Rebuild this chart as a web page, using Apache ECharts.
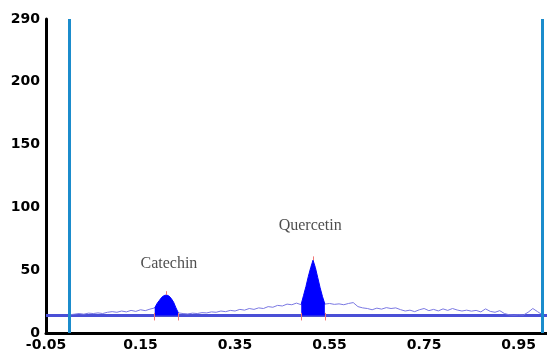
<!DOCTYPE html>
<html>
<head>
<meta charset="utf-8">
<script src="https://cdn.jsdelivr.net/npm/echarts@6/dist/echarts.min.js"></script>
<style>
  html, body { margin: 0; padding: 0; background: #fff; }
  #chart { width: 547px; height: 358px; }
</style>
</head>
<body>
<div id="chart"></div>
<script>
// densitometry trace (Rf, height)
const traceX = [0.00, 0.01, 0.02, 0.03, 0.04, 0.05, 0.06, 0.07, 0.08, 0.09, 0.10,
  0.11, 0.12, 0.13, 0.14, 0.15, 0.16, 0.17, 0.18,
  0.23, 0.24, 0.25, 0.26, 0.27, 0.28, 0.29, 0.30,
  0.31, 0.32, 0.33, 0.34, 0.35, 0.36, 0.37, 0.38, 0.39, 0.40,
  0.41, 0.42, 0.43, 0.44, 0.45, 0.46, 0.47, 0.48, 0.49,
  0.54, 0.55, 0.56, 0.57, 0.58, 0.59, 0.60,
  0.61, 0.62, 0.63, 0.64, 0.65, 0.66, 0.67, 0.68, 0.69, 0.70,
  0.71, 0.72, 0.73, 0.74, 0.75, 0.76, 0.77, 0.78, 0.79, 0.80,
  0.81, 0.82, 0.83, 0.84, 0.85, 0.86, 0.87, 0.88, 0.89, 0.90, 0.91, 0.92,
  0.93, 0.94, 0.95, 0.96, 0.97, 0.98, 0.99, 1.00];
const traceY = [14.5, 15, 15.5, 15, 15.8, 15.5, 16, 15.5, 16.5, 17, 16.5,
  17.5, 16.8, 18, 17.2, 18.5, 17.8, 19, 20,
  16, 15.5, 15.2, 15.8, 15.5, 16.2, 16, 16.8,
  16.5, 17.5, 17, 18, 17.5, 18.8, 18.2, 19.5, 18.8, 20,
  19.5, 21, 20.5, 22, 21.5, 23, 22.5, 23.8, 22.5,
  23, 23.5, 22.8, 23.2, 22.5, 23.5, 24.2,
  21, 20, 19.5, 18.5, 19.8, 19, 20.2, 19.5, 20, 18.6,
  17.5, 18.2, 17, 18.5, 19.5, 17.8, 18.8, 17.6, 19.2, 18,
  19.5, 18.3, 17.5, 18.2, 17.4, 18, 16.8, 19.2, 17.2, 16.5, 17.8, 15.5,
  14.5, 14.2, 14.5, 14.3, 16.5, 19.5, 17, 14.5];

// filled peaks
const catechinX = [0.18, 0.185, 0.19, 0.195, 0.20, 0.205, 0.21, 0.215, 0.22, 0.225, 0.23];
const catechinY = [20, 23.5, 26, 28.5, 29.8, 30.3, 29.5, 27.5, 24.5, 20, 16];
const quercetinX = [0.49, 0.495, 0.50, 0.505, 0.51, 0.515, 0.52, 0.525, 0.53, 0.535, 0.54];
const quercetinY = [23, 30, 37, 45, 52, 58, 52, 44, 36, 29, 23];
const peakBounds = [0.18, 0.23, 0.49, 0.54];
const peakTops = [[0.205, 30.3], [0.515, 58]];

const baselineY = 14;
const baselineX = [-0.05, 1.01];
const markerX = [0.0, 1.0];

const peakNames = ['Catechin', 'Quercetin'];
const peakLabelX = [0.21, 0.509];
const peakLabelY = [55, 85];

const xTicks = [-0.05, 0.15, 0.35, 0.55, 0.75, 0.95];
const yTicks = [0, 50, 100, 150, 200, 250];
const yTickLabels = ['0', '50', '100', '150', '200', '290'];

const zip = (xs, ys) => xs.map((x, i) => [x, ys[i]]);

const chart = echarts.init(document.getElementById('chart'));
const axisFont = { color: '#000', fontWeight: 'bold', fontSize: 14, fontFamily: 'DejaVu Sans' };

chart.setOption({
  animation: false,
  grid: { left: 46, right: 0, top: 19, bottom: 25 },
  xAxis: {
    type: 'value',
    min: -0.05,
    max: 1.01,
    interval: 0.2,
    axisLine: { show: true, onZero: false, lineStyle: { color: '#000', width: 3 } },
    axisTick: { show: false },
    splitLine: { show: false },
    axisLabel: {
      ...axisFont,
      margin: 5,
      showMaxLabel: false,
      formatter: (v) => {
        const t = xTicks.find((x) => Math.abs(x - v) < 1e-6);
        return t === undefined ? '' : t.toFixed(2);
      },
    },
  },
  yAxis: {
    type: 'value',
    min: 0,
    max: 250,
    interval: 50,
    axisLine: { show: true, onZero: false, lineStyle: { color: '#000', width: 3 } },
    axisTick: { show: false },
    splitLine: { show: false },
    axisLabel: {
      ...axisFont,
      margin: 6,
      formatter: (v) => {
        const i = yTicks.indexOf(Math.round(v));
        return i < 0 ? '' : yTickLabels[i];
      },
    },
  },
  series: [
    {
      type: 'line',
      data: baselineX.map((x) => [x, baselineY]),
      symbol: 'none',
      lineStyle: { color: '#4a4fd6', width: 3 },
      z: 2,
      markLine: {
        silent: true,
        symbol: 'none',
        label: { show: false },
        lineStyle: { color: '#1b8ccc', width: 3, type: 'solid' },
        data: markerX.map((x) => ({ xAxis: x })),
      },
    },
    {
      type: 'line',
      data: zip(traceX, traceY),
      symbol: 'none',
      lineStyle: { color: '#7a78e2', width: 1 },
      z: 3,
    },
    ...[[catechinX, catechinY], [quercetinX, quercetinY]].map(([xs, ys]) => ({
      type: 'line',
      data: zip(xs, ys),
      symbol: 'none',
      lineStyle: { color: '#0000ff', width: 1 },
      areaStyle: { color: '#0000ff', opacity: 1, origin: baselineY },
      z: 4,
    })),
    {
      type: 'line',
      data: [],
      symbol: 'none',
      z: 5,
      markLine: {
        silent: true,
        symbol: 'none',
        label: { show: false },
        lineStyle: { color: '#f07878', width: 1, type: 'solid' },
        data: peakBounds.map((x) => [{ coord: [x, baselineY - 4] }, { coord: [x, baselineY + 2] }])
          .concat(peakTops.map(([x, y]) => [{ coord: [x, y] }, { coord: [x, y + 3] }])),
      },
    },
    {
      type: 'scatter',
      data: peakNames.map((n, i) => ({ name: n, value: [peakLabelX[i], peakLabelY[i]] })),
      symbolSize: 0,
      silent: true,
      label: {
        show: true,
        position: 'inside',
        formatter: (p) => p.name,
        fontFamily: 'Liberation Serif',
        fontSize: 16,
        color: '#222',
      },
      z: 6,
    },
  ],
});
</script>
</body>
</html>
